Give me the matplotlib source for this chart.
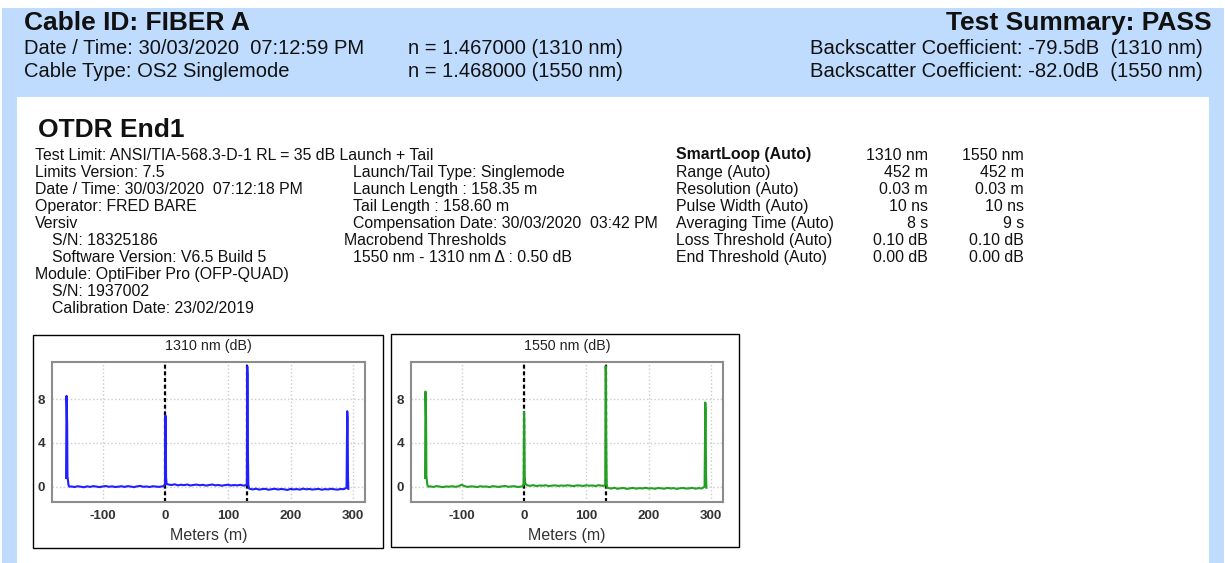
#OTDR report page - Cable ID FIBER A

from matplotlib import pyplot as plt
from matplotlib.patches import Rectangle

# trace distances (m), shared by both wavelengths
dist_m = [-158.5, -157.8, -157.3, -156.8, -156.3, -155.5, -154.5, -153,
          -150, -145, -140, -135, -130, -125, -120, -115, -110, -105, -100,
          -95, -90, -85, -80, -75, -70, -65, -60, -55, -50, -45, -40, -35,
          -30, -25, -20, -15, -10, -5, -2,
          -0.5, 0.2, 0.7, 1.2, 2.0,
          5, 10, 15, 20, 25, 30, 35, 40, 45, 50, 55, 60, 65, 70, 75, 80, 85,
          90, 95, 100, 105, 110, 115, 120, 125, 129,
          130.3, 130.9, 131.4, 131.9, 132.6, 133.5,
          135, 140, 145, 150, 155, 160, 165, 170, 175, 180, 185, 190, 195,
          200, 205, 210, 215, 220, 225, 230, 235, 240, 245, 250, 255, 260,
          265, 270, 275, 280, 285,
          289.5, 290.6, 291.2, 291.8, 292.4]

trace_1310_db = [0.8, 8.3, 7.2, 5.5, 0.9, 0.6, 0.1, 0.0,
                 0.02, -0.03, 0.04, 0.00, -0.05, 0.03, -0.02, 0.05, 0.01, -0.04, 0.02,
                 0.06, -0.01, 0.03, -0.03, 0.00, 0.04, -0.02, 0.05, 0.01, -0.04, 0.03, 0.07, -0.01,
                 0.02, -0.03, 0.04, 0.01, -0.02, 0.03, 0.05,
                 0.3, 6.5, 5.2, 0.9, 0.25,
                 0.2, 0.15, 0.22, 0.12, 0.18, 0.14, 0.2, 0.11, 0.16, 0.19, 0.13, 0.17, 0.1, 0.15, 0.2, 0.12, 0.16,
                 0.09, 0.14, 0.18, 0.11, 0.15, 0.12, 0.17, 0.1, 0.13,
                 0.3, 11.0, 10.2, 3.5, 0.2, -0.15,
                 -0.2, -0.25, -0.18, -0.27, -0.22, -0.2, -0.28, -0.23, -0.19, -0.26, -0.21, -0.24, -0.3,
                 -0.2, -0.25, -0.22, -0.27, -0.18, -0.24, -0.21, -0.26, -0.23, -0.2, -0.28, -0.22, -0.25,
                 -0.19, -0.24, -0.27, -0.21, -0.23,
                 -0.1, 6.9, 6.3, 1.0, -0.2]

trace_1550_db = [0.8, 8.7, 7.6, 6.0, 1.0, 0.5, 0.1, 0.0,
                 0.03, -0.02, 0.05, 0.01, -0.04, 0.02, 0.00, 0.04, -0.01, 0.03, 0.18,
                 0.05, -0.02, 0.03, 0.01, -0.03, 0.04, 0.00, 0.02, -0.04, 0.05, 0.01, -0.02, 0.03,
                 0.06, -0.01, 0.02, 0.04, -0.03, 0.01, 0.03,
                 0.3, 6.8, 5.5, 1.0, 0.3,
                 0.12, 0.08, 0.14, 0.06, 0.11, 0.09, 0.13, 0.05, 0.1, 0.12, 0.07, 0.11, 0.08, 0.13, 0.09, 0.06, 0.12,
                 0.1, 0.07, 0.13, 0.09, 0.11, 0.06, 0.14, 0.08, 0.1,
                 0.25, 11.0, 10.5, 4.0, 0.3, -0.1,
                 -0.12, -0.17, -0.1, -0.19, -0.14, -0.12, -0.2, -0.15, -0.11, -0.18, -0.13, -0.16, -0.1,
                 -0.17, -0.14, -0.19, -0.12, -0.15, -0.18, -0.11, -0.16, -0.13, -0.2, -0.14, -0.12, -0.17,
                 -0.15, -0.11, -0.18, -0.13, -0.16,
                 0.0, 7.7, 7.0, 1.2, -0.1]

event_m = [0, 130.8]
x_ticks = [-100, 0, 100, 200, 300]
y_ticks = [0, 4, 8]

header_left = ["Date / Time: 30/03/2020  07:12:59 PM", "Cable Type: OS2 Singlemode"]
header_mid = ["n = 1.467000 (1310 nm)", "n = 1.468000 (1550 nm)"]
header_right = ["Backscatter Coefficient: -79.5dB  (1310 nm)",
                "Backscatter Coefficient: -82.0dB  (1550 nm)"]

col1 = ["Test Limit: ANSI/TIA-568.3-D-1 RL = 35 dB Launch + Tail",
        "Limits Version: 7.5",
        "Date / Time: 30/03/2020  07:12:18 PM",
        "Operator: FRED BARE",
        "Versiv",
        "S/N: 18325186",
        "Software Version: V6.5 Build 5",
        "Module: OptiFiber Pro (OFP-QUAD)",
        "S/N: 1937002",
        "Calibration Date: 23/02/2019"]
col1_indented = [5, 6, 8, 9]

col2 = ["Launch/Tail Type: Singlemode",
        "Launch Length : 158.35 m",
        "Tail Length : 158.60 m",
        "Compensation Date: 30/03/2020  03:42 PM",
        "Macrobend Thresholds",
        "1550 nm - 1310 nm \u0394 : 0.50 dB"]
col2_outdented = [4]

settings = ["SmartLoop (Auto)", "Range (Auto)", "Resolution (Auto)", "Pulse Width (Auto)",
            "Averaging Time (Auto)", "Loss Threshold (Auto)", "End Threshold (Auto)"]
val_1310 = ["1310 nm", "452 m", "0.03 m", "10 ns", "8 s", "0.10 dB", "0.00 dB"]
val_1550 = ["1550 nm", "452 m", "0.03 m", "10 ns", "9 s", "0.10 dB", "0.00 dB"]


plt.rcParams['font.family'] = ['Liberation Sans', 'DejaVu Sans']
plt.rcParams['axes.unicode_minus'] = False

W, H = 1225, 563
fig = plt.figure(figsize=(W / 100, H / 100), dpi=100)

def fx(px):
    return px / W

def fy(py):
    return 1 - py / H

def box(x0, y0, x1, y1, **kw):
    fig.add_artist(Rectangle((fx(x0), fy(y1)), (x1 - x0) / W, (y1 - y0) / H,
                             transform=fig.transFigure, **kw))

def txt(x, y, s, size, **kw):
    fig.text(fx(x), fy(y), s, fontsize=size, va='baseline', color='#111111', **kw)

# background: blue band + white panel
box(2, 8, 1224, 563, fc='#bfdcfe', ec='none', zorder=-10)
box(17, 97, 1209, 563, fc='white', ec='none', zorder=-9)

# header
txt(24, 30, "Cable ID: FIBER A", 19, fontweight='bold')
txt(1212, 30, "Test Summary: PASS", 19, fontweight='bold', ha='right')
for i in range(2):
    yb = 54 + 23 * i
    txt(24, yb, header_left[i], 14.5)
    txt(408, yb, header_mid[i], 14.5)
    txt(1203, yb, header_right[i], 14.6, ha='right')

txt(38, 137, "OTDR End1", 19, fontweight='bold')

# info block
step = 17.1
fs = 11.4
for i, s in enumerate(col1):
    txt(52 if i in col1_indented else 35, 159.5 + step * i, s, fs)
for i, s in enumerate(col2):
    txt(344 if i in col2_outdented else 353, 159.5 + step * (i + 1), s, fs)
for i in range(len(settings)):
    yb = 159.5 + step * i
    w = 'bold' if i == 0 else 'normal'
    txt(676, yb, settings[i], fs, fontweight=w)
    txt(928, yb, val_1310[i], fs, ha='right')
    txt(1024, yb, val_1550[i], fs, ha='right')

# the two traces
plots = [("1310 nm (dB)", trace_1310_db, '#1f1fff', (33, 335, 383, 548), (52, 362, 365, 502)),
         ("1550 nm (dB)", trace_1550_db, '#22a022', (391, 334, 739, 547), (411, 362, 723, 502))]

for title, ys, col, frame, area in plots:
    box(*frame, fc='none', ec='black', lw=1.0, zorder=-5)
    x0, y0, x1, y1 = area
    ax = fig.add_axes([fx(x0), fy(y1), (x1 - x0) / W, (y1 - y0) / H])
    ax.plot(dist_m, ys, color=col, lw=1.5, zorder=3)
    for e in event_m:
        ax.axvline(e, color='black', lw=1.6, ls=(0, (1.8, 1.2)), zorder=2)
    ax.set_xlim(-181, 319)
    ax.set_ylim(-1.4, 11.4)
    ax.set_xticks(x_ticks)
    ax.set_yticks(y_ticks)
    ax.grid(True, color='#cccccc', ls=':', lw=1.0)
    ax.tick_params(length=0, labelsize=9.7, colors='#333333')
    ax.tick_params(axis='x', pad=6)
    ax.tick_params(axis='y', pad=5)
    for lab in ax.get_xticklabels() + ax.get_yticklabels():
        lab.set_fontweight('bold')
    for sp in ax.spines.values():
        sp.set_color('#8c8c8c')
        sp.set_linewidth(1.5)
    ax.set_title(title, fontsize=10.3, pad=8.5, color='#222222')
    ax.set_xlabel('Meters (m)', fontsize=11.5, labelpad=4, color='#333333')

fig.savefig('out.png', dpi=100)
